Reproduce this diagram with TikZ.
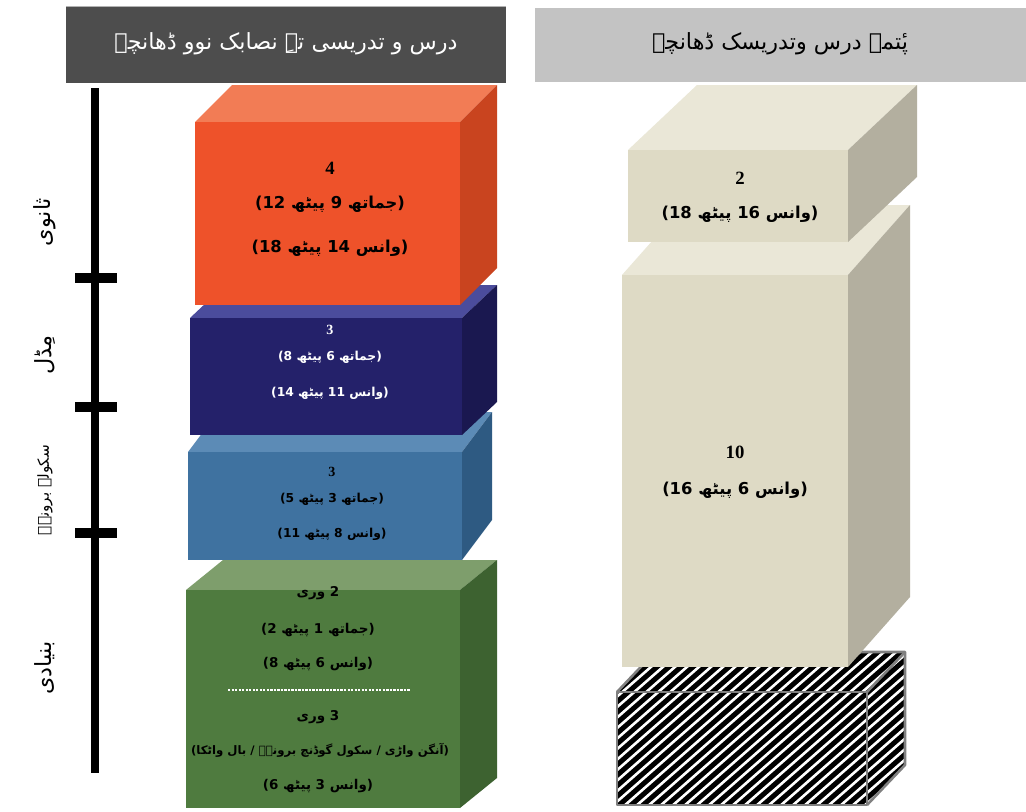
\documentclass[tikz,border=0pt]{standalone}
\usepackage{fontspec}
\setmainfont{Liberation Serif}
\newfontfamily\ur[Script=Arabic]{DejaVu Sans}
\TeXXeTstate=1
\definecolor{hdark}{HTML}{4D4D4D}
\definecolor{hlight}{HTML}{C3C3C3}
\definecolor{orF}{HTML}{EE522A}
\definecolor{orT}{HTML}{F27C55}
\definecolor{orS}{HTML}{C9441F}
\definecolor{dbF}{HTML}{24216A}
\definecolor{dbT}{HTML}{4B4C9C}
\definecolor{dbS}{HTML}{1A1850}
\definecolor{sbF}{HTML}{3F72A0}
\definecolor{sbT}{HTML}{5C8BB6}
\definecolor{sbS}{HTML}{2E5A82}
\definecolor{grF}{HTML}{4F7B3F}
\definecolor{grT}{HTML}{7E9E6C}
\definecolor{grS}{HTML}{3D6230}
\definecolor{bgF}{HTML}{DEDAC5}
\definecolor{bgT}{HTML}{EAE7D7}
\definecolor{bgS}{HTML}{B3AF9F}
\newcommand{\ut}[1]{{\ur\bfseries\beginR #1\endR}}
\newcommand{\uh}[1]{{\ur\beginR #1\endR}}
\newcommand{\boxcube}[9]{%
  \fill[#8] (#1,#2) -- ({#1+#5},{#2-#6}) -- ({#3+#5},{#2-#6}) -- (#3,#2) -- cycle;
  \fill[#9] (#3,#2) -- ({#3+#5},{#2-#6}) -- ({#3+#5},{#4-#6}) -- (#3,#4) -- cycle;
  \fill[#7] (#1,#2) rectangle (#3,#4);}
\tikzset{
  lbl/.style={font=\fontsize{12}{14}\selectfont, text=black},
  lblw/.style={lbl, text=white},
  side/.style={font=\fontsize{19}{21}\selectfont, rotate=90},
  tick/.style={line width=8.5pt},
}
\begin{document}
\begin{tikzpicture}[x=0.03cm,y=-0.03cm]
\useasboundingbox (0,0) rectangle (1026,812);
\fill[white] (0,0) rectangle (1026,812);
% headers
\fill[hdark] (66,6) rectangle (506,83);
\draw[gray!60, line width=0.8pt] (66,6) -- (506,6);
\node[text=white, font=\fontsize{19}{22}\selectfont] (hL) at (286,44) {\uh{درس و تدریسی تہِ نصابک نوو ڈھانچہ}};
\fill[hlight] (535,8) rectangle (1026,82);
\node[text=black, font=\fontsize{19}{22}\selectfont] (hR) at (780,44) {\uh{پٔتمہ درس وتدریسک ڈھانچہ}};
% axis
\coordinate (aT) at (95,88);
\coordinate (aB) at (95,773);
\draw[line width=6.8pt] (aT) -- (aB);
\coordinate (t1a) at (75,278); \coordinate (t1b) at (117,278);
\coordinate (t2a) at (75,407); \coordinate (t2b) at (117,407);
\coordinate (t3a) at (75,533); \coordinate (t3b) at (117,533);
\draw[tick] (t1a) -- (t1b);
\draw[tick] (t2a) -- (t2b);
\draw[tick] (t3a) -- (t3b);
\node[side] (s1) at (45,222) {\uh{ثانوی}};
\node[side] (s2) at (45,355) {\uh{مِڈل}};
\node[side, font=\fontsize{13}{15}\selectfont] (s3) at (45,490) {\uh{سکولہ برونہہ}};
\node[side] (s4) at (45,668) {\uh{بنیادی}};
% left stack (bottom first)
\boxcube{186}{590}{460}{808}{37}{30}{grF}{grT}{grS}
\boxcube{188}{452}{462}{560}{30}{40}{sbF}{sbT}{sbS}
\boxcube{190}{318}{462}{435}{35}{33}{dbF}{dbT}{dbS}
\boxcube{195}{122}{460}{305}{37}{37}{orF}{orT}{orS}
% orange text
\node[lbl, font=\fontsize{16}{18}\selectfont\bfseries] (o1) at (330,168) {4};
\node[lbl, font=\fontsize{14}{16}\selectfont] (o2) at (330,204) {\ut{(جماتھ 9 پیٹھ 12)}};
\node[lbl, font=\fontsize{14}{16}\selectfont] (o3) at (330,248) {\ut{(وانس 14 پیٹھ 18)}};
% dark blue text
\node[lblw, font=\fontsize{12}{14}\selectfont\bfseries] (b1) at (330,330) {3};
\node[lblw, font=\fontsize{10.5}{12}\selectfont] (b2) at (330,357) {\ut{(جماتھ 6 پیٹھ 8)}};
\node[lblw, font=\fontsize{10.5}{12}\selectfont] (b3) at (330,393) {\ut{(وانس 11 پیٹھ 14)}};
% steel blue text
\node[lbl, font=\fontsize{12}{14}\selectfont\bfseries] (c1) at (332,472) {3};
\node[lbl, font=\fontsize{10.5}{12}\selectfont] (c2) at (332,499) {\ut{(جماتھ 3 پیٹھ 5)}};
\node[lbl, font=\fontsize{10.5}{12}\selectfont] (c3) at (332,534) {\ut{(وانس 8 پیٹھ 11)}};
% green text
\node[lbl, font=\fontsize{11.5}{13}\selectfont] (g1) at (318,593) {\ut{2 وری}};
\node[lbl, font=\fontsize{11.5}{13}\selectfont] (g2) at (318,630) {\ut{(جماتھ 1 پیٹھ 2)}};
\node[lbl, font=\fontsize{11.5}{13}\selectfont] (g3) at (318,664) {\ut{(وانس 6 پیٹھ 8)}};
\coordinate (dl) at (228,690);
\coordinate (dr) at (410,690);
\draw[white, line width=2.2pt, dash pattern=on 2pt off 1pt] (dl) -- (dr);
\node[lbl, font=\fontsize{11.5}{13}\selectfont] (g4) at (318,717) {\ut{3 وری}};
\node[lbl, font=\fontsize{10}{12}\selectfont] (g5) at (320,750) {\ut{(آنگن واڑی / سکول گوڈنچ برونہہ / بال واٹکا)}};
\node[lbl, font=\fontsize{11.5}{13}\selectfont] (g6) at (318,786) {\ut{(وانس 3 پیٹھ 6)}};
% right column: hatched base
\begin{scope}
  \clip (617,692) -- (655,652) -- (905,652) -- (905,765) -- (867,805) -- (617,805) -- cycle;
  \fill[black] (600,640) rectangle (920,812);
  \foreach \i in {0,12,...,480} {
    \draw[white, line width=2.2pt] ({440+\i},820) -- ++(200,-175);
  }
\end{scope}
\draw[gray, line width=2.2pt, line join=round] (617,692) rectangle (867,805);
\draw[gray, line width=2.2pt, line join=round] (617,692) -- (655,652) -- (905,652) -- (905,765) -- (867,805);
\draw[gray, line width=2.2pt] (867,692) -- (905,652);
% beige boxes
\boxcube{622}{275}{848}{667}{62}{70}{bgF}{bgT}{bgS}
\boxcube{628}{150}{848}{242}{69}{65}{bgF}{bgT}{bgS}
\node[lbl, font=\fontsize{16}{18}\selectfont\bfseries] (r1) at (740,178) {2};
\node[lbl, font=\fontsize{14}{16}\selectfont] (r2) at (740,214) {\ut{(وانس 16 پیٹھ 18)}};
\node[lbl, font=\fontsize{16}{18}\selectfont\bfseries] (r3) at (735,452) {10};
\node[lbl, font=\fontsize{14}{16}\selectfont] (r4) at (735,490) {\ut{(وانس 6 پیٹھ 16)}};
\end{tikzpicture}
\end{document}
